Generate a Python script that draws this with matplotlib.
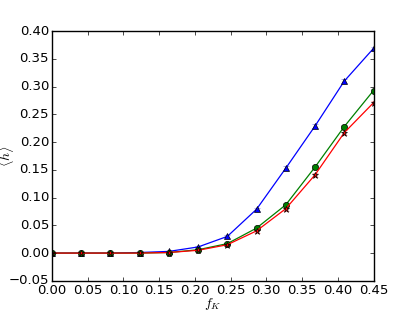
import numpy as np
import matplotlib
matplotlib.use('Agg')
from matplotlib import pyplot as plt

f_k = np.linspace(0, 0.45, 12)

h_blue = [0.0, 0.0, 0.0, 0.001, 0.003, 0.011, 0.030, 0.079, 0.153, 0.229, 0.310, 0.369]
h_green = [0.0, 0.0, 0.0, 0.0, 0.001, 0.006, 0.017, 0.045, 0.087, 0.155, 0.228, 0.293]
h_red = [0.0, 0.0, 0.0, 0.0, 0.001, 0.005, 0.015, 0.040, 0.080, 0.141, 0.217, 0.271]

err_blue = [0.0005, 0.0005, 0.0005, 0.001, 0.001, 0.002, 0.002, 0.003, 0.004, 0.004, 0.003, 0.003]
err_green = [0.0005, 0.0005, 0.0005, 0.001, 0.001, 0.002, 0.002, 0.003, 0.003, 0.003, 0.003, 0.003]
err_red = [0.0005, 0.0005, 0.0005, 0.001, 0.001, 0.002, 0.002, 0.003, 0.004, 0.004, 0.004, 0.003]

plt.style.use('classic')
plt.rcParams['font.size'] = 9.5
plt.rcParams['xtick.major.pad'] = 2
plt.rcParams['ytick.major.pad'] = 2
plt.rcParams['xtick.major.size'] = 3
plt.rcParams['ytick.major.size'] = 3

fig = plt.figure(figsize=(4.15, 3.12), dpi=100)
ax = fig.add_subplot(111)

series = [
    (h_blue, err_blue, 'b', '^', '#8080ff'),
    (h_green, err_green, 'g', 'o', '#80c080'),
    (h_red, err_red, 'r', '*', '#ff9090'),
]
for vals, errs, col, mk, ecol in series:
    ax.errorbar(f_k, vals, yerr=errs, color=col, marker=mk, markersize=4.5,
                ecolor=ecol, capsize=2.5, elinewidth=0.8, linewidth=0.9)

ax.set_xlim(0, 0.45)
ax.set_ylim(-0.05, 0.40)
ax.set_xticks(np.arange(0, 0.451, 0.05))
ax.set_yticks(np.arange(-0.05, 0.401, 0.05))
ax.set_xlabel(r'$f_K$', fontsize=10)
ax.set_ylabel(r'$\langle h \rangle$', fontsize=10)
ax.xaxis.set_label_coords(0.5, -0.062)
ax.yaxis.set_label_coords(-0.11, 0.5)

fig.savefig('out.png', dpi=100)
